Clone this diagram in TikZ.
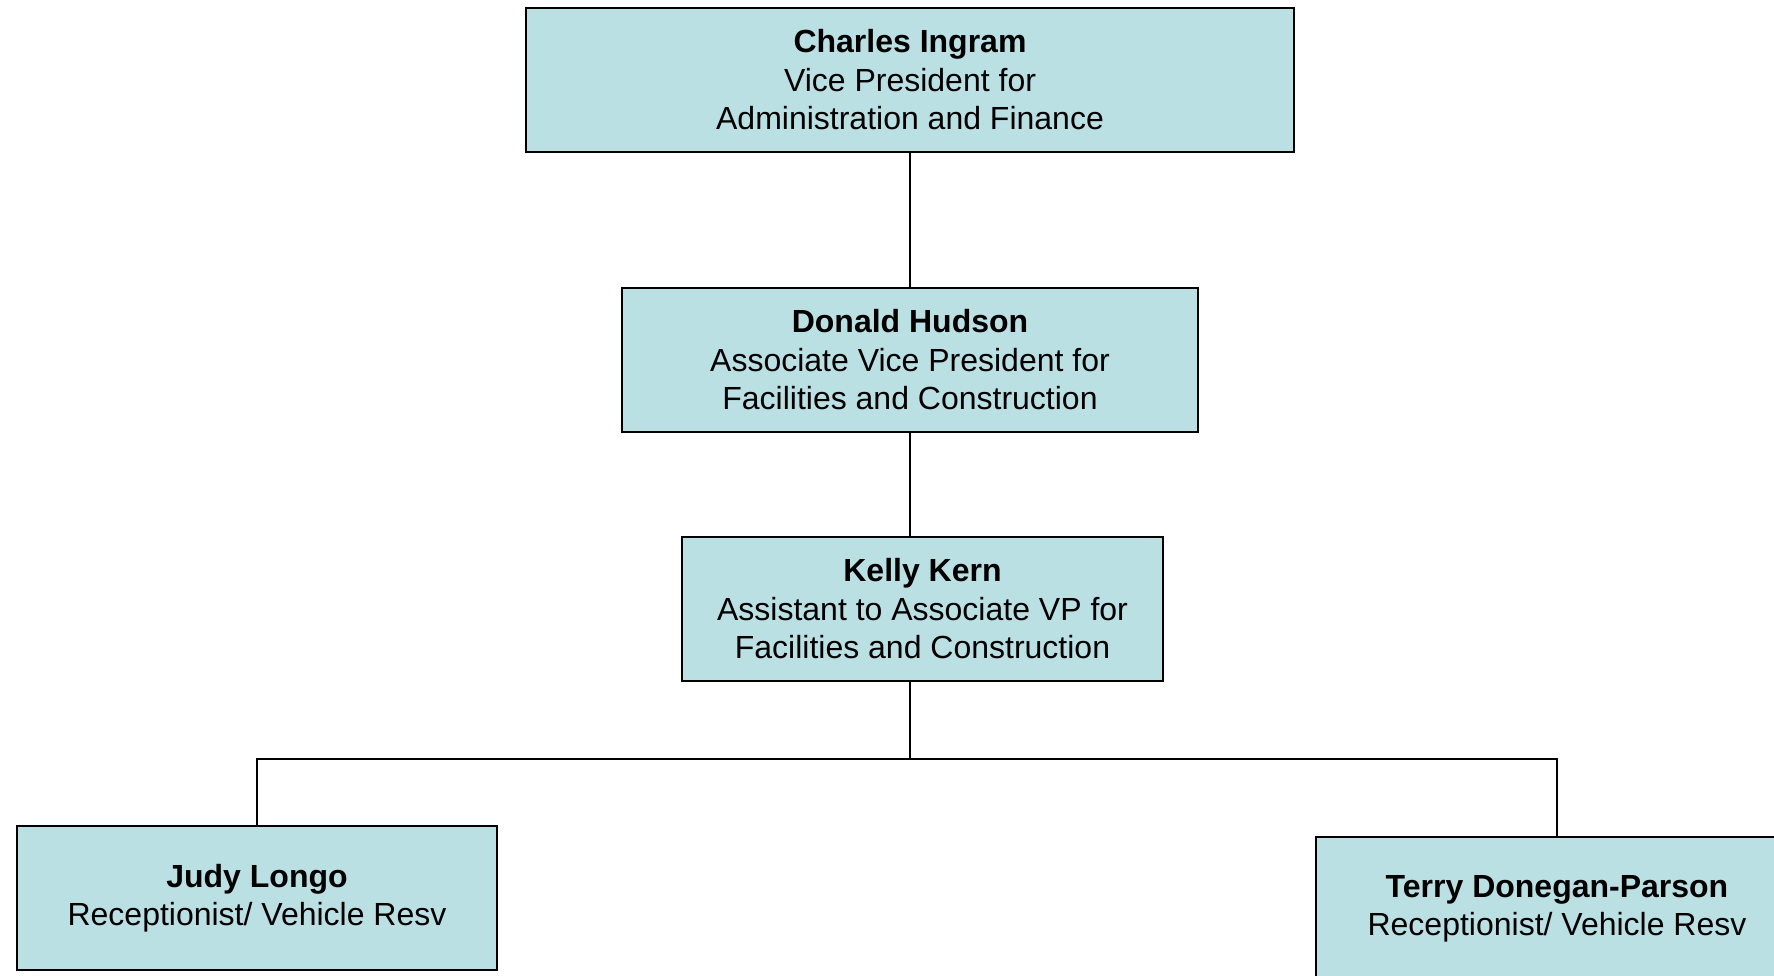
\documentclass[tikz,border=0pt]{standalone}
\usepackage{fontspec}
\setmainfont{Liberation Sans}
\definecolor{boxfill}{RGB}{187,224,228}
\tikzset{
  orgbox/.style={draw=black, line width=2pt, fill=boxfill, inner sep=0pt, outer sep=0pt,
    minimum height=144pt, align=center, font=\fontsize{32}{38.5}\selectfont},
  link/.style={draw=black, line width=1.3pt}
}
\begin{document}
\begin{tikzpicture}[x=1pt,y=-1pt]
\clip (0,0) rectangle (1774,975);
\fill[white] (0,0) rectangle (1774,975);
\node[orgbox, minimum width=768pt] (ci) at (910,80) {\textbf{Charles Ingram}\\Vice President for\\Administration and Finance};
\node[orgbox, minimum width=576pt] (dh) at (910,360) {\textbf{Donald Hudson}\\Associate Vice President for\\Facilities and Construction};
\node[orgbox, minimum width=481pt] (kk) at (922.5,609) {\textbf{Kelly Kern}\\Assistant to Associate VP for\\Facilities and Construction};
\node[orgbox, minimum width=480pt] (jl) at (257,898) {\textbf{Judy Longo}\\Receptionist/ Vehicle Resv};
\node[orgbox, minimum width=482pt] (td) at (1557,909) {\textbf{Terry Donegan-Parson}\\Receptionist/ Vehicle Resv};
\coordinate (j) at (910,759);
\draw[link] (ci.south) -- (dh.north);
\draw[link] (dh.south) -- (dh.south |- kk.north);
\draw[link] (kk.south -| j) -- (j);
\draw[link] (jl.north) |- (j) -| (td.north);
\end{tikzpicture}
\end{document}
